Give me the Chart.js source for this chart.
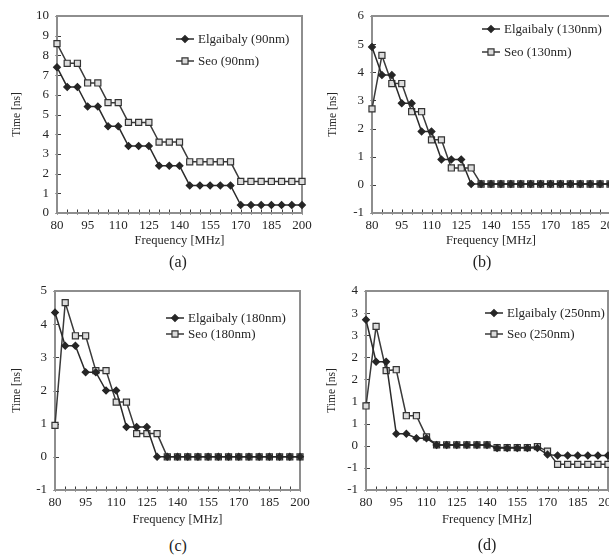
<!DOCTYPE html>
<html><head><meta charset="utf-8">
<script src="https://cdn.jsdelivr.net/npm/chart.js@4.4.1/dist/chart.umd.min.js"></script>
<style>
html,body{margin:0;padding:0;background:#fff;width:609px;height:555px;overflow:hidden;position:relative;}
canvas{position:absolute;}
.cap{position:absolute;font-family:"Liberation Serif","DejaVu Serif",serif;font-size:16px;color:#222;transform:translate(-50%,-50%);white-space:nowrap;}
</style></head><body>
<canvas id="ca"></canvas><canvas id="cb"></canvas><canvas id="cc"></canvas><canvas id="cd"></canvas>
<div class="cap" style="left:178px;top:262px">(a)</div>
<div class="cap" style="left:482px;top:262px">(b)</div>
<div class="cap" style="left:178px;top:546px">(c)</div>
<div class="cap" style="left:487px;top:545px">(d)</div>
<script>
// ---- data ----
const freq = [80,85,90,95,100,105,110,115,120,125,130,135,140,145,150,155,160,165,170,175,180,185,190,195,200];
const xTickLabels = [80,95,110,125,140,155,170,185,200];

const elg90  = [7.4,6.4,6.4,5.4,5.4,4.4,4.4,3.4,3.4,3.4,2.4,2.4,2.4,1.4,1.4,1.4,1.4,1.4,0.4,0.4,0.4,0.4,0.4,0.4,0.4];
const seo90  = [8.6,7.6,7.6,6.6,6.6,5.6,5.6,4.6,4.6,4.6,3.6,3.6,3.6,2.6,2.6,2.6,2.6,2.6,1.6,1.6,1.6,1.6,1.6,1.6,1.6];

const elg130 = [4.9,3.9,3.9,2.9,2.9,1.9,1.9,0.9,0.9,0.9,0.03,0.03,0.03,0.03,0.03,0.03,0.03,0.03,0.03,0.03,0.03,0.03,0.03,0.03,0.03];
const seo130 = [2.7,4.6,3.6,3.6,2.6,2.6,1.6,1.6,0.6,0.6,0.6,0.03,0.03,0.03,0.03,0.03,0.03,0.03,0.03,0.03,0.03,0.03,0.03,0.03,0.03];

const elg180 = [4.35,3.35,3.35,2.55,2.55,2.0,2.0,0.9,0.9,0.9,0,0,0,0,0,0,0,0,0,0,0,0,0,0,0];
const seo180 = [0.95,4.65,3.65,3.65,2.6,2.6,1.65,1.65,0.7,0.7,0.7,0,0,0,0,0,0,0,0,0,0,0,0,0,0];

const elg250 = [2.85,1.9,1.9,0.27,0.27,0.17,0.17,0.02,0.02,0.02,0.02,0.02,0.02,-0.05,-0.05,-0.05,-0.05,-0.05,-0.2,-0.22,-0.22,-0.22,-0.22,-0.22,-0.22];
const seo250 = [0.9,2.7,1.7,1.72,0.68,0.68,0.2,0.02,0.02,0.02,0.02,0.02,0.02,-0.04,-0.04,-0.04,-0.04,-0.02,-0.12,-0.42,-0.42,-0.42,-0.42,-0.42,-0.42];

const labelsA = ['Elgaibaly (90nm)','Seo (90nm)'];
const labelsB = ['Elgaibaly (130nm)','Seo (130nm)'];
const labelsC = ['Elgaibaly (180nm)','Seo (180nm)'];
const labelsD = ['Elgaibaly (250nm)','Seo (250nm)'];

// ---- styling ----
const SERIF = '"Liberation Serif","DejaVu Serif",serif';
const INK = '#262626';
const styles = [
  {pointStyle:'rectRot', pointRadius:3.4, bg:'#262626', bc:'#262626', line:'#2a2a2a'},
  {pointStyle:'rect', pointRadius:4.3, bg:'#dcdcdc', bc:'#333333', line:'#3a3a3a'}
];

function drawMark(ctx, st, x, y){
  ctx.save();
  ctx.fillStyle = st.bg; ctx.strokeStyle = st.bc; ctx.lineWidth = 1.2;
  ctx.beginPath();
  const r = st.pointRadius;
  if (st.pointStyle === 'rectRot') {
    ctx.moveTo(x, y - r); ctx.lineTo(x + r, y); ctx.lineTo(x, y + r); ctx.lineTo(x - r, y); ctx.closePath();
  } else {
    const s = r * Math.SQRT1_2; ctx.rect(x - s, y - s, 2 * s, 2 * s);
  }
  ctx.fill(); ctx.stroke();
  ctx.restore();
}

const framePlugin = {
  id: 'frame',
  beforeDatasetsDraw(chart) {
    const {ctx, chartArea: a, scales: {x, y}} = chart;
    ctx.save();
    ctx.strokeStyle = '#3c3c3c'; ctx.lineWidth = 1;
    x.ticks.forEach(t => {
      const px = Math.round(x.getPixelForValue(t.value)) + 0.5;
      ctx.beginPath(); ctx.moveTo(px, a.bottom + 1.5); ctx.lineTo(px, a.bottom - 3.5); ctx.stroke();
    });
    y.ticks.forEach(t => {
      const py = Math.round(y.getPixelForValue(t.value)) + 0.5;
      ctx.beginPath(); ctx.moveTo(a.left - 1.5, py); ctx.lineTo(a.left + 4, py); ctx.stroke();
    });
    ctx.strokeStyle = '#8e8e8e'; ctx.lineWidth = 2;
    ctx.strokeRect(a.left, a.top, a.right - a.left, a.bottom - a.top);
    ctx.restore();
  },
  afterDraw(chart) {
    const lg = chart.options.plugins.frame;
    if (!lg) return;
    const ctx = chart.ctx;
    ctx.save();
    chart.data.datasets.forEach((ds, i) => {
      const st = styles[i];
      const yy = lg.rows[i];
      ctx.strokeStyle = st.line; ctx.lineWidth = 1.5;
      ctx.beginPath(); ctx.moveTo(lg.x0, yy); ctx.lineTo(lg.x0 + 18, yy); ctx.stroke();
      drawMark(ctx, st, lg.x0 + 9, yy);
      ctx.fillStyle = INK; ctx.font = '13px ' + SERIF; ctx.textBaseline = 'middle'; ctx.textAlign = 'left';
      ctx.fillText(ds.label, lg.x0 + 22, yy + 0.5);
    });
    ctx.restore();
  }
};

function makePanel(id, p) {
  const cv = document.getElementById(id);
  cv.width = p.cw; cv.height = p.ch;
  cv.style.left = p.cx + 'px'; cv.style.top = p.cy + 'px';
  cv.style.width = p.cw + 'px'; cv.style.height = p.ch + 'px';
  const yAxisW = p.L - p.cx;
  const xAxisH = p.cy + p.ch - p.B;
  const datasets = p.series.map((vals, i) => {
    const st = styles[i];
    return {
      label: p.labels[i],
      data: freq.map((f, k) => ({x: f, y: vals[k]})),
      borderColor: st.line, borderWidth: 1.5, tension: 0,
      pointStyle: st.pointStyle, pointRadius: st.pointRadius,
      pointBackgroundColor: st.bg, pointBorderColor: st.bc, pointBorderWidth: 1.2,
      clip: false, fill: false
    };
  });
  new Chart(cv, {
    type: 'line',
    data: {datasets},
    plugins: [framePlugin],
    options: {
      responsive: false, animation: false, devicePixelRatio: 1,
      layout: {padding: {left: 0, top: p.T - p.cy, right: p.cx + p.cw - p.R, bottom: 0}},
      plugins: {
        legend: {display: false}, tooltip: {enabled: false},
        frame: {x0: p.legX - p.cx, rows: p.legRows.map(r => r - p.cy)}
      },
      scales: {
        x: {
          type: 'linear', min: 80, max: 200,
          grid: {display: false, drawTicks: false}, border: {display: false},
          ticks: {stepSize: 5, maxTicksLimit: 100, autoSkip: false, maxRotation: 0, padding: 5,
            color: INK, font: {family: SERIF, size: 13},
            callback: v => xTickLabels.includes(v) ? String(v) : ''},
          title: {display: true, text: 'Frequency [MHz]', color: INK, font: {family: SERIF, size: 12.5}, padding: {top: 0, bottom: 0}},
          afterFit: s => { s.height = xAxisH; }
        },
        y: {
          type: 'linear', min: p.ymin, max: p.ymax,
          grid: {display: false, drawTicks: false}, border: {display: false},
          ticks: {stepSize: p.ystep, maxTicksLimit: 100, autoSkip: false, padding: 8,
            color: INK, font: {family: SERIF, size: 13},
            callback: v => String(Math.sign(v) * Math.round(Math.abs(v)))},
          title: {display: true, text: 'Time [ns]', color: INK, font: {family: SERIF, size: 11.5},
            padding: {top: p.yTitleX - p.cx - 6.9, bottom: 0}},
          afterFit: s => { s.width = yAxisW; }
        }
      }
    }
  });
}

makePanel('ca', {cx: 0, cy: 0, cw: 335, ch: 248, L: 57, R: 302, T: 16, B: 213,
  ymin: 0, ymax: 10, ystep: 1, yTitleX: 17, series: [elg90, seo90], labels: labelsA,
  legX: 176, legRows: [39, 61]});
makePanel('cb', {cx: 310, cy: 0, cw: 330, ch: 248, L: 372, R: 610, T: 16, B: 213,
  ymin: -1, ymax: 6, ystep: 1, yTitleX: 333, series: [elg130, seo130], labels: labelsB,
  legX: 482, legRows: [29, 52]});
makePanel('cc', {cx: 0, cy: 270, cw: 335, ch: 257, L: 55, R: 300, T: 291, B: 490,
  ymin: -1, ymax: 5, ystep: 1, yTitleX: 17, series: [elg180, seo180], labels: labelsC,
  legX: 166, legRows: [318, 334]});
makePanel('cd', {cx: 310, cy: 270, cw: 330, ch: 257, L: 366, R: 608, T: 291, B: 490,
  ymin: -1, ymax: 3.5, ystep: 0.5, yTitleX: 332, series: [elg250, seo250], labels: labelsD,
  legX: 485, legRows: [313, 334]});
</script>
</body></html>
